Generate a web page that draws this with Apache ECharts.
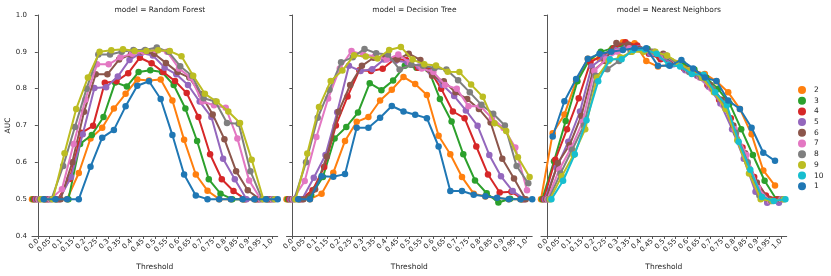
<!DOCTYPE html>
<html><head><meta charset="utf-8">
<script src="https://cdn.jsdelivr.net/npm/echarts@6/dist/echarts.min.js"></script>
<style>html,body{margin:0;padding:0;background:#fff}#c{width:831px;height:276px}</style>
</head><body><div id="c"></div>
<script>
const thresholds = ['0.0','0.05','0.1','0.15','0.2','0.25','0.3','0.35','0.4','0.45','0.5','0.55','0.6','0.65','0.7','0.75','0.8','0.85','0.9','0.95','1.0'];
const hueNames = ['2','3','4','5','6','7','8','9','10','1'];
const hueColors = ['#ff7f0e','#2ca02c','#d62728','#9467bd','#8c564b','#e377c2','#7f7f7f','#bcbd22','#17becf','#1f77b4'];
const models = ['Random Forest','Decision Tree','Nearest Neighbors'];
const yTicks = [0.4,0.5,0.6,0.7,0.8,0.9,1.0];

// Random Forest
const rf2 = [0.5,0.5,0.5,0.5,0.571,0.665,0.694,0.746,0.786,0.825,0.822,0.825,0.768,0.661,0.567,0.523,0.5,0.5,0.5,0.5,0.5];
const rf3 = [0.5,0.5,0.5,0.5,0.65,0.674,0.723,0.817,0.806,0.845,0.85,0.845,0.81,0.746,0.658,0.554,0.515,0.5,0.5,0.5,0.5];
const rf4 = [0.5,0.5,0.5,0.555,0.68,0.699,0.816,0.82,0.842,0.884,0.869,0.845,0.821,0.788,0.723,0.622,0.554,0.522,0.5,0.5,0.5];
const rf5 = [0.5,0.5,0.5,0.56,0.676,0.802,0.804,0.833,0.878,0.897,0.89,0.857,0.839,0.81,0.765,0.723,0.61,0.554,0.5,0.5,0.5];
const rf6 = [0.5,0.5,0.5,0.6,0.737,0.839,0.839,0.879,0.893,0.9,0.895,0.87,0.845,0.83,0.785,0.73,0.663,0.576,0.524,0.5,0.5];
const rf7 = [0.5,0.5,0.527,0.65,0.77,0.866,0.866,0.885,0.895,0.9,0.905,0.9,0.855,0.83,0.765,0.755,0.748,0.665,0.551,0.5,0.5];
const rf8 = [0.5,0.5,0.59,0.696,0.8,0.893,0.893,0.9,0.905,0.905,0.912,0.9,0.861,0.835,0.774,0.765,0.707,0.705,0.576,0.5,0.5];
const rf9 = [0.5,0.5,0.625,0.745,0.83,0.9,0.904,0.907,0.902,0.902,0.904,0.902,0.888,0.835,0.786,0.765,0.738,0.707,0.607,0.5,0.5];
const rf10 = [];
const rf1 = [0.5,0.5,0.5,0.5,0.588,0.667,0.688,0.752,0.808,0.82,0.772,0.674,0.567,0.51,0.5,0.5,0.5,0.5,0.5,0.5,0.5];

// Decision Tree
const dt2 = [0.5,0.5,0.5,0.515,0.572,0.658,0.71,0.723,0.768,0.797,0.832,0.8125,0.783,0.672,0.622,0.56,0.515,0.507,0.503,0.5,0.5];
const dt3 = [0.5,0.5,0.511,0.56,0.665,0.696,0.735,0.815,0.796,0.822,0.862,0.857,0.853,0.772,0.711,0.622,0.551,0.516,0.491,0.501,0.5];
const dt4 = [0.5,0.5,0.524,0.587,0.7,0.779,0.85,0.848,0.854,0.88,0.878,0.857,0.851,0.8,0.738,0.72,0.643,0.567,0.518,0.52,0.5];
const dt5 = [0.5,0.5,0.558,0.62,0.736,0.862,0.848,0.853,0.879,0.876,0.872,0.86,0.845,0.81,0.78,0.741,0.699,0.62,0.562,0.522,0.5];
const dt6 = [0.5,0.5,0.527,0.616,0.737,0.81,0.862,0.884,0.884,0.879,0.895,0.878,0.835,0.82,0.79,0.772,0.745,0.708,0.61,0.556,0.5];
const dt7 = [0.5,0.549,0.669,0.773,0.855,0.902,0.893,0.888,0.879,0.893,0.87,0.855,0.845,0.81,0.8,0.752,0.753,0.72,0.693,0.64,0.524];
const dt8 = [0.5,0.6,0.721,0.797,0.872,0.885,0.908,0.896,0.893,0.852,0.865,0.862,0.856,0.852,0.823,0.79,0.756,0.732,0.7,0.59,0.543];
const dt9 = [0.5,0.624,0.75,0.821,0.849,0.891,0.887,0.882,0.905,0.913,0.879,0.866,0.863,0.846,0.845,0.811,0.778,0.706,0.685,0.614,0.56];
const dt10 = [];
const dt1 = [0.5,0.5,0.562,0.561,0.568,0.694,0.694,0.721,0.753,0.738,0.729,0.72,0.643,0.522,0.522,0.512,0.508,0.504,0.5,0.5,0.5];

// Nearest Neighbors
const nn2 = [0.5,0.679,0.73,0.82,0.881,0.882,0.905,0.926,0.923,0.875,0.86,0.865,0.862,0.85,0.84,0.82,0.79,0.745,0.676,0.578,0.537];
const nn3 = [0.5,0.603,0.712,0.82,0.877,0.9,0.91,0.918,0.912,0.908,0.885,0.875,0.868,0.852,0.83,0.8,0.76,0.69,0.62,0.55,0.5];
const nn4 = [0.5,0.607,0.69,0.774,0.872,0.89,0.91,0.926,0.917,0.895,0.88,0.87,0.855,0.84,0.81,0.77,0.72,0.64,0.56,0.51,0.5];
const nn5 = [0.5,0.585,0.656,0.738,0.86,0.885,0.905,0.915,0.91,0.895,0.885,0.866,0.85,0.835,0.805,0.76,0.69,0.61,0.52,0.49,0.49];
const nn6 = [0.5,0.598,0.647,0.726,0.848,0.875,0.924,0.92,0.908,0.9,0.895,0.87,0.853,0.835,0.81,0.77,0.7,0.625,0.545,0.5,0.5];
const nn7 = [0.5,0.58,0.638,0.71,0.848,0.88,0.9,0.91,0.905,0.898,0.89,0.87,0.85,0.83,0.8,0.755,0.69,0.62,0.53,0.495,0.5];
const nn8 = [0.5,0.57,0.634,0.7,0.835,0.853,0.875,0.9,0.905,0.9,0.89,0.868,0.845,0.83,0.8,0.755,0.68,0.6,0.51,0.495,0.5];
const nn9 = [0.5,0.5625,0.62,0.69,0.83,0.875,0.885,0.9,0.9,0.9,0.89,0.87,0.85,0.83,0.79,0.745,0.66,0.57,0.5,0.495,0.5];
const nn10 = [0.5,0.55,0.622,0.714,0.82,0.88,0.88,0.905,0.906,0.895,0.865,0.86,0.84,0.838,0.79,0.755,0.656,0.58,0.506,0.495,0.5];
const nn1 = [0.67,0.766,0.826,0.881,0.895,0.9,0.905,0.91,0.91,0.862,0.862,0.878,0.855,0.83,0.821,0.768,0.745,0.694,0.626,0.604,null];

const panelData = [
  [rf2,rf3,rf4,rf5,rf6,rf7,rf8,rf9,rf10,rf1],
  [dt2,dt3,dt4,dt5,dt6,dt7,dt8,dt9,dt10,dt1],
  [nn2,nn3,nn4,nn5,nn6,nn7,nn8,nn9,nn10,nn1]
];

const FONT = 'DejaVu Sans';
const TXT = '#262626';
const AX = '#555';
const gridLefts = [32, 286.5, 541];
const gridW = 245.7, gridTop = 15, gridH = 224;
const dodge = 1;
const nH = hueNames.length;

const grid = [], xAxis = [], yAxis = [], title = [], series = [];
models.forEach((m, p) => {
  grid.push({left: gridLefts[p], top: gridTop, width: gridW, height: gridH, containLabel: false});
  title.push({text: 'model = ' + m, left: gridLefts[p] + gridW/2, top: 1, textAlign: 'center',
    textStyle: {fontFamily: FONT, fontSize: 7.5, fontWeight: 'normal', color: TXT}});
  xAxis.push({type: 'category', gridIndex: p, data: thresholds, boundaryGap: true,
    axisLine: {show: true, lineStyle: {color: AX, width: 1}},
    axisTick: {show: true, alignWithLabel: true, length: 3, lineStyle: {color: AX}},
    axisLabel: {rotate: 45, interval: 0, fontFamily: FONT, fontSize: 7, color: TXT, margin: 4},
    splitLine: {show: false},
    name: 'Threshold', nameLocation: 'middle', nameGap: 27,
    nameTextStyle: {fontFamily: FONT, fontSize: 7.5, color: TXT}});
  xAxis.push({type: 'value', gridIndex: p, min: -0.5, max: 20.5, show: false});
  yAxis.push({type: 'value', gridIndex: p, min: yTicks[0], max: yTicks[yTicks.length-1], interval: 0.1,
    axisLine: {show: true, lineStyle: {color: AX, width: 1}},
    axisTick: {show: true, length: 3, lineStyle: {color: AX}},
    axisLabel: {show: p === 0, fontFamily: FONT, fontSize: 7, color: TXT, margin: 5,
      formatter: v => v.toFixed(1)},
    splitLine: {show: false},
    name: p === 0 ? 'AUC' : '', nameLocation: 'middle', nameGap: 20, nameRotate: 90,
    nameTextStyle: {fontFamily: FONT, fontSize: 7.5, color: TXT}});
  panelData[p].forEach((vals, i) => {
    if (!vals.length) return;
    const off = -dodge/2 + i * dodge/(nH-1);
    const data = [];
    vals.forEach((v, k) => { if (v !== null) data.push([k + off, v]); });
    series.push({type: 'line', name: hueNames[i], xAxisIndex: 2*p+1, yAxisIndex: p,
      data, symbol: 'circle', symbolSize: 6.5, showSymbol: true,
      lineStyle: {width: 2, color: hueColors[i]}, itemStyle: {color: hueColors[i]},
      z: 2 + i, animation: false, emphasis: {disabled: true}});
  });
});

const chart = echarts.init(document.getElementById('c'), null, {renderer: 'canvas'});
chart.setOption({
  animation: false,
  title, grid, xAxis, yAxis, series,
  legend: {data: hueNames, orient: 'vertical', left: 793, top: 81, icon: 'circle',
    itemWidth: 8, itemHeight: 8, itemGap: 2.7,
    textStyle: {fontFamily: FONT, fontSize: 7.5, color: TXT, lineHeight: 8, padding: [0,0,0,3]},
    selectedMode: false}
});
</script></body></html>
